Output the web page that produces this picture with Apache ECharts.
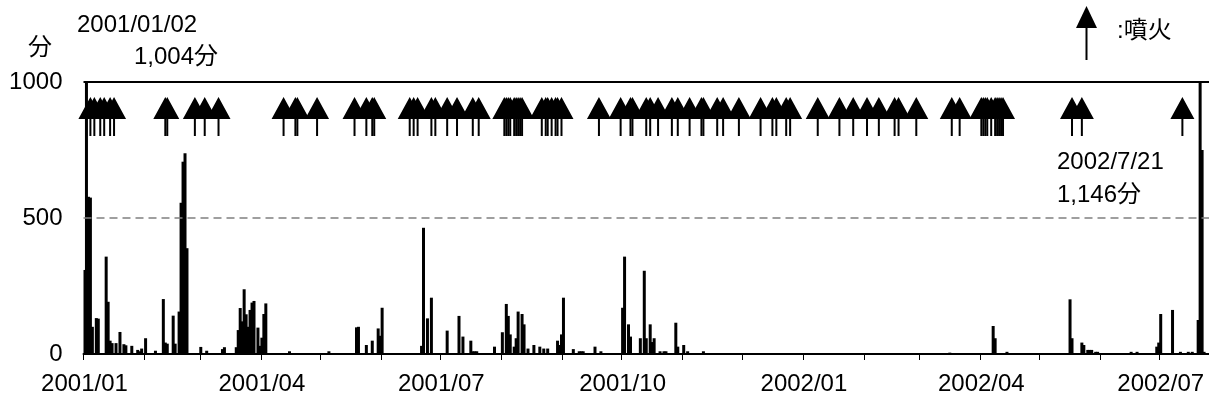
<!DOCTYPE html>
<html>
<head>
<meta charset="utf-8">
<script src="https://cdn.jsdelivr.net/npm/echarts@6/dist/echarts.min.js"></script>
<style>html,body{margin:0;padding:0;background:#fff;}#chart{width:1209px;height:405px;}</style>
</head>
<body>
<div id="chart"></div>
<script>
// ---- data ----
const startDate = '2001-01-01';
const endDate = '2002-07-25';
const yTicks = [0, 500, 1000];
const xLabelMonths = ['01', '04', '07', '10'];

const barDates = [
 '2001-01-01','2001-01-02','2001-01-03','2001-01-04','2001-01-05','2001-01-07','2001-01-08','2001-01-12','2001-01-13','2001-01-14',
 '2001-01-15','2001-01-17','2001-01-19','2001-01-21','2001-01-22','2001-01-25','2001-01-28','2001-01-29','2001-01-30','2001-02-01',
 '2001-02-06','2001-02-10','2001-02-11','2001-02-12','2001-02-15','2001-02-16','2001-02-18','2001-02-19','2001-02-20','2001-02-21',
 '2001-02-22','2001-03-01','2001-03-04','2001-03-12','2001-03-13','2001-03-19','2001-03-20','2001-03-21','2001-03-22','2001-03-23',
 '2001-03-24','2001-03-25','2001-03-26','2001-03-27','2001-03-28','2001-03-30','2001-03-31','2001-04-01','2001-04-02','2001-04-03',
 '2001-04-15','2001-05-05','2001-05-19','2001-05-20','2001-05-24','2001-05-27','2001-05-30','2001-05-31','2001-06-01','2001-06-21',
 '2001-06-22','2001-06-24','2001-06-26','2001-07-04','2001-07-10','2001-07-12','2001-07-16','2001-07-17','2001-07-18','2001-07-19',
 '2001-07-28','2001-08-01','2001-08-03','2001-08-04','2001-08-05','2001-08-07','2001-08-08','2001-08-09','2001-08-11','2001-08-12',
 '2001-08-14','2001-08-17','2001-08-20','2001-08-22','2001-08-24','2001-08-29','2001-08-30','2001-08-31','2001-09-01','2001-09-06',
 '2001-09-09','2001-09-10','2001-09-11','2001-09-17','2001-09-20','2001-10-01','2001-10-02','2001-10-04','2001-10-05','2001-10-10',
 '2001-10-12','2001-10-13','2001-10-15','2001-10-16','2001-10-17','2001-10-20','2001-10-22','2001-10-23','2001-10-28','2001-10-29',
 '2001-11-01','2001-11-03','2001-11-11','2002-03-16','2002-04-07','2002-04-08','2002-04-14','2002-05-16','2002-05-17','2002-05-22',
 '2002-05-23','2002-05-25','2002-05-26','2002-05-27','2002-05-29','2002-05-30','2002-06-16','2002-06-19','2002-06-29','2002-06-30',
 '2002-07-01','2002-07-07','2002-07-11','2002-07-15','2002-07-17','2002-07-20','2002-07-21','2002-07-22','2002-07-23'
];
const barValues = [
 309,1004,578,575,100,132,130,358,192,49,
 40,40,81,36,32,30,15,10,20,58,
 12,202,42,38,141,38,156,556,707,738,
 389,26,12,18,25,25,88,169,120,238,
 146,100,162,189,195,97,30,60,147,186,
 10,10,98,100,33,49,94,67,170,30,
 464,131,207,86,140,64,49,10,10,10,
 27,80,184,140,72,27,58,156,147,109,
 20,33,27,20,20,49,33,72,207,18,
 10,10,10,27,10,170,358,109,64,58,
 306,58,109,44,58,10,10,10,115,27,
 33,10,10,5,103,58,8,201,58,42,
 33,15,15,15,8,8,8,8,27,42,
 147,162,8,8,8,125,1146,750,8
];

const eruptionDates = [
 '2001-01-04','2001-01-06','2001-01-09','2001-01-11','2001-01-14','2001-01-16',
 '2001-02-11','2001-02-12','2001-02-26','2001-03-03','2001-03-10',
 '2001-04-12','2001-04-18','2001-04-19','2001-04-29',
 '2001-05-18','2001-05-24','2001-05-27','2001-05-28',
 '2001-06-15','2001-06-17','2001-06-19','2001-06-26','2001-06-28',
 '2001-07-04','2001-07-09','2001-07-17','2001-07-20',
 '2001-08-02','2001-08-03','2001-08-04','2001-08-05','2001-08-07','2001-08-08','2001-08-09','2001-08-10','2001-08-11',
 '2001-08-21','2001-08-23','2001-08-24','2001-08-26','2001-08-28','2001-08-29','2001-08-31',
 '2001-09-19','2001-09-30','2001-10-05','2001-10-06','2001-10-13','2001-10-15','2001-10-19','2001-10-26','2001-10-29',
 '2001-11-04','2001-11-10','2001-11-11','2001-11-18','2001-11-21','2001-11-29',
 '2001-12-10','2001-12-16','2001-12-18','2001-12-23','2001-12-25',
 '2002-01-08','2002-01-19','2002-01-26','2002-02-02','2002-02-08','2002-02-16','2002-02-18','2002-02-27',
 '2002-03-17','2002-03-21','2002-04-01','2002-04-02','2002-04-03','2002-04-04','2002-04-06','2002-04-08','2002-04-09','2002-04-10','2002-04-11','2002-04-12',
 '2002-05-17','2002-05-22','2002-07-12'
];

// ---- build ----
function fmt(d){
  const y=d.getUTCFullYear(), m=('0'+(d.getUTCMonth()+1)).slice(-2), dd=('0'+d.getUTCDate()).slice(-2);
  return y+'-'+m+'-'+dd;
}
const categories = [];
for (let t = Date.parse(startDate+'T00:00:00Z'); t <= Date.parse(endDate+'T00:00:00Z'); t += 86400000) {
  categories.push(fmt(new Date(t)));
}
const valueMap = {};
barDates.forEach((d,i)=>{ valueMap[d]=barValues[i]; });
const barSeriesData = categories.map(d => (d in valueMap) ? valueMap[d] : null);

const ARROW_LEVEL = 873;
const arrowData = eruptionDates.map(d => [d, ARROW_LEVEL]);
const ARROW_PATH = 'path://M0,22 L12,0 L24,22 Z M11,21 L13,21 L13,39 L11,39 Z';

const FONT = "'Liberation Sans', 'Noto Sans CJK JP', sans-serif";
const chart = echarts.init(document.getElementById('chart'), null, {renderer:'canvas'});
chart.setOption({
  animation: false,
  backgroundColor: '#fff',
  textStyle: {fontFamily: FONT, color: '#000'},
  grid: {left: 83.5, right: 0, top: 82, bottom: 51, containLabel: false},
  xAxis: {
    type: 'category',
    data: categories,
    boundaryGap: true,
    axisLine: {show: true, lineStyle: {color: '#000', width: 2}},
    axisTick: {show: true, length: 6, lineStyle: {color: '#000', width: 1},
      interval: (idx, val) => val.slice(8) === '01'},
    axisLabel: {
      interval: (idx, val) => val.slice(8) === '01' && xLabelMonths.indexOf(val.slice(5,7)) >= 0,
      formatter: val => val.slice(0,7).replace('-', '/'),
      fontSize: 24, color: '#000', margin: 18, fontFamily: FONT
    },
    splitLine: {show: false}
  },
  yAxis: {
    type: 'value', min: yTicks[0], max: yTicks[yTicks.length-1], interval: 500,
    axisLine: {show: false}, axisTick: {show: false}, splitLine: {show: false},
    axisLabel: {fontSize: 24, color: '#000', margin: 21, fontFamily: FONT, formatter: v => String(v)}
  },
  series: [
    {
      type: 'bar', data: barSeriesData, barWidth: 3, itemStyle: {color: '#000'},
      clip: true,
      markLine: {
        silent: true, symbol: 'none', label: {show: false},
        data: [
          {yAxis: 500, lineStyle: {color: '#808080', width: 1.5, type: [8, 5]}},
          {yAxis: 1000, lineStyle: {color: '#000', width: 2, type: 'solid'}}
        ]
      }
    },
    {
      type: 'scatter', data: arrowData, symbol: ARROW_PATH, symbolSize: [24, 39],
      itemStyle: {color: '#000', opacity: 1}, z: 5
    }
  ],
  graphic: [
    {type: 'text', left: 28, top: 36, style: {text: '分', font: '24px ' + FONT, fill: '#000'}},
    {type: 'text', left: 77, top: 13, style: {text: '2001/01/02', font: '24px ' + FONT, fill: '#000'}},
    {type: 'text', left: 134, top: 45, style: {text: '1,004分', font: '24px ' + FONT, fill: '#000'}},
    {type: 'text', left: 1057, top: 150, style: {text: '2002/7/21', font: '24px ' + FONT, fill: '#000'}},
    {type: 'text', left: 1057, top: 183, style: {text: '1,146分', font: '24px ' + FONT, fill: '#000'}},
    {type: 'polygon', shape: {points: [[1076,28],[1086.5,6],[1097,28]]}, style: {fill: '#000'}},
    {type: 'line', shape: {x1: 1086.5, y1: 27, x2: 1086.5, y2: 60}, style: {stroke: '#000', lineWidth: 2}},
    {type: 'text', left: 1117, top: 19, style: {text: ':噴火', font: '24px ' + FONT, fill: '#000'}}
  ]
});
</script>
</body>
</html>
